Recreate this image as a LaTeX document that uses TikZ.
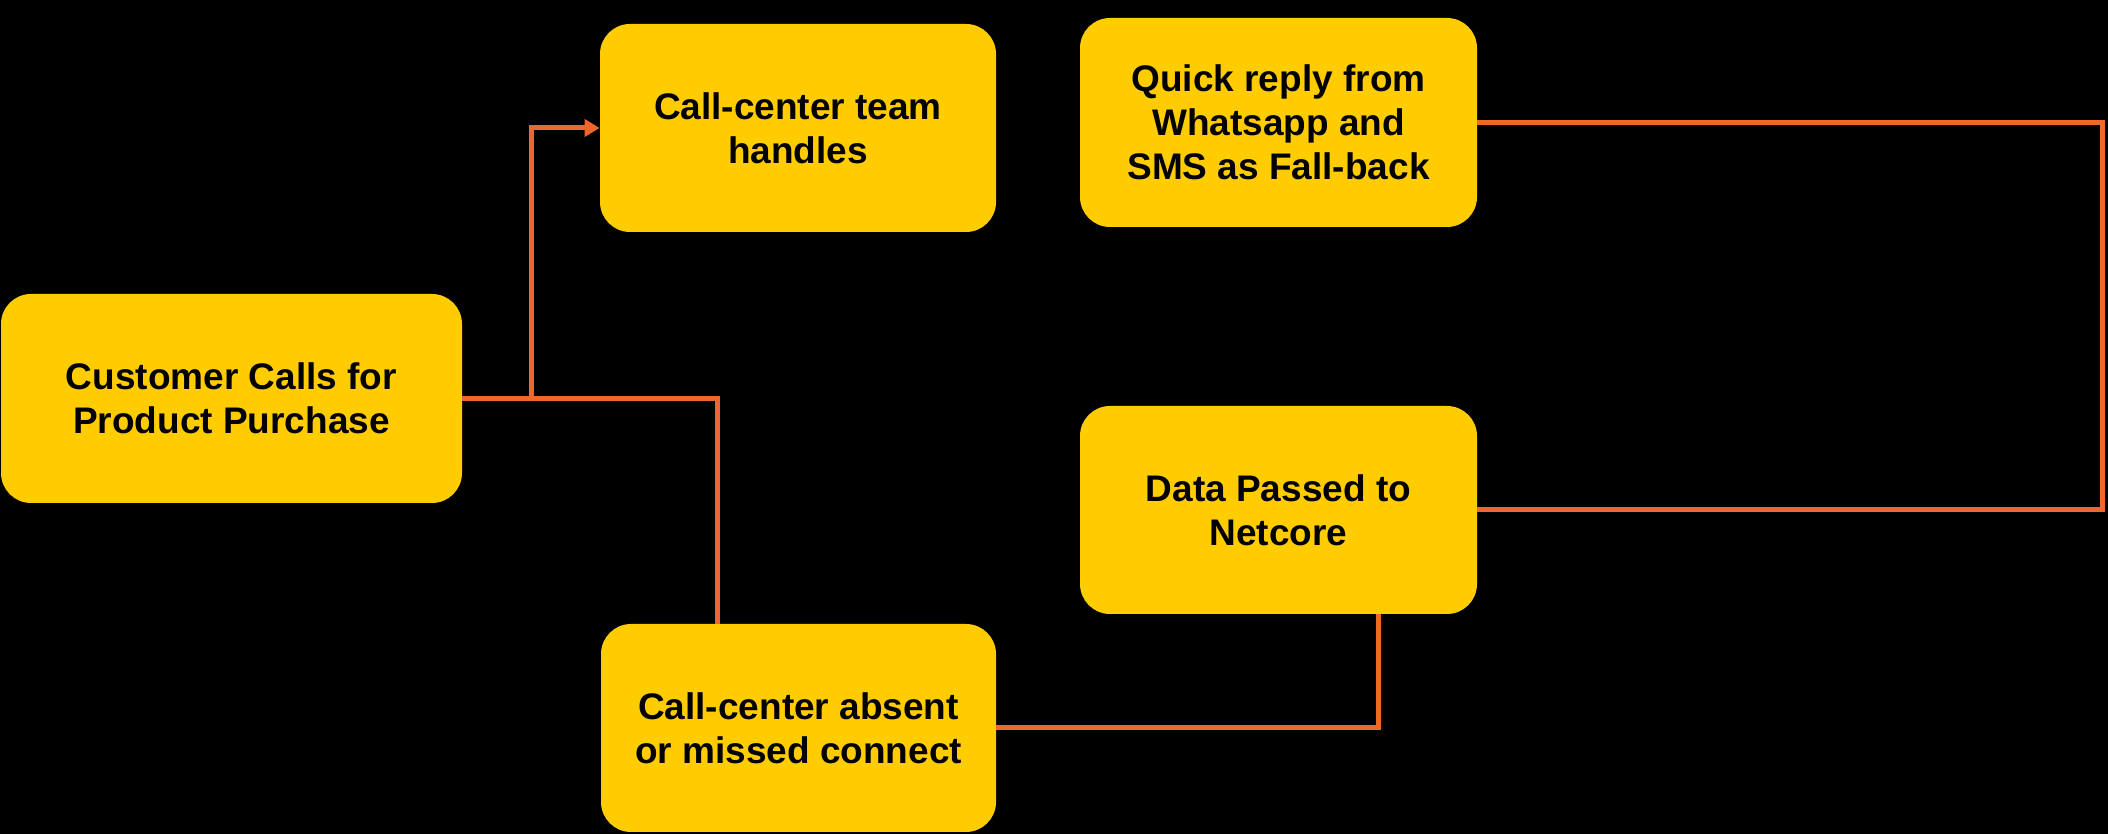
\documentclass[tikz,border=0pt]{standalone}
\usepackage{fontspec}
\setmainfont{Liberation Sans}
\usetikzlibrary{arrows.meta}
\definecolor{boxyellow}{RGB}{255,204,0}
\definecolor{lineorange}{RGB}{238,104,44}

\begin{document}
\begin{tikzpicture}[x=0.5pt,y=0.5pt,
  box/.style={fill=boxyellow,rounded corners=15pt,inner sep=0pt,align=center,
    font=\fontsize{18.5}{22}\selectfont\bfseries},
  link/.style={draw=lineorange,line width=2.5pt},
  >={Triangle[length=7.5pt,width=8.5pt]}]
\fill[black] (0,0) rectangle (2108,834);
\useasboundingbox (0,0) rectangle (2108,834);
\node[box,minimum width=230.5pt,minimum height=104.5pt] (buyer) at (231.5,435.5) {Customer Calls for\\Product Purchase};
\node[box,minimum width=198pt,minimum height=104pt] (handled) at (798,706) {Call-center team\\handles};
\node[box,minimum width=198.5pt,minimum height=104.5pt] (reply) at (1278.5,711.5) {Quick reply from\\Whatsapp and\\SMS as Fall-back};
\node[box,minimum width=198.5pt,minimum height=104pt] (netcore) at (1278.5,324) {Data Passed to\\Netcore};
\node[box,minimum width=197.5pt,minimum height=104pt] (missed) at (798.5,106) {Call-center absent\\or missed connect};
\coordinate (split) at (531,435.5);
\coordinate (turn) at (717,435.5);
\coordinate (drop) at (1378,106);
\coordinate (loop) at (2102,324);
\draw[link] (buyer.east) -- (turn) -- (turn |- missed.north);
\draw[link,->] (split) |- (handled.west);
\draw[link] (missed.east) -- (drop) -- (drop |- netcore.south);
\draw[link] (netcore.east) -- (loop) |- (reply.east);
\end{tikzpicture}
\end{document}
